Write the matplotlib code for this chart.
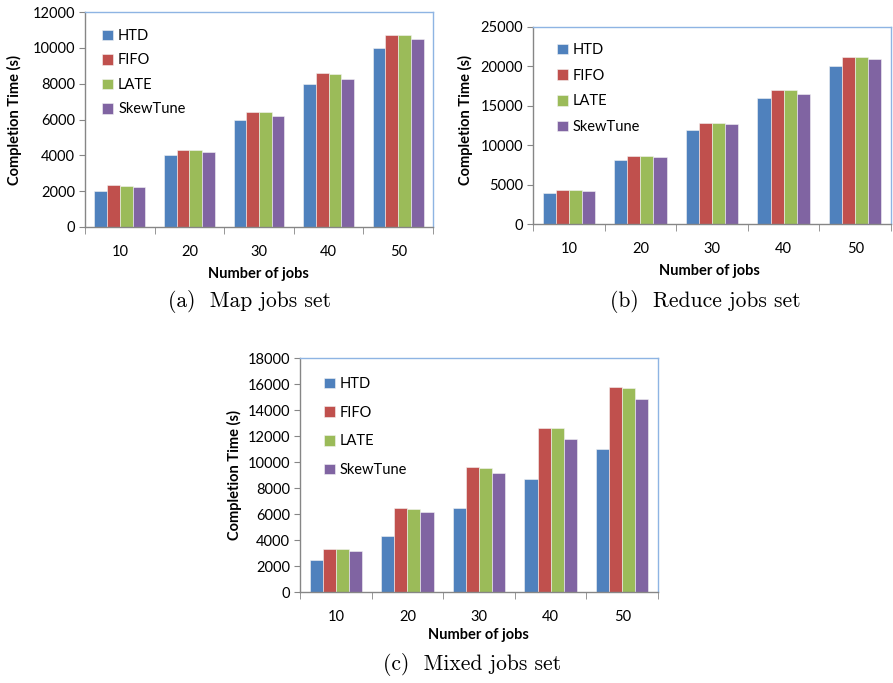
import numpy as np
import matplotlib
matplotlib.use("Agg")
import matplotlib.pyplot as plt

jobs = ["10", "20", "30", "40", "50"]
series = ["HTD", "FIFO", "LATE", "SkewTune"]
colors = ["#4F81BD", "#C0504D", "#9BBB59", "#8064A2"]

map_htd = [2000, 4000, 6000, 8000, 10000]
map_fifo = [2320, 4320, 6400, 8580, 10730]
map_late = [2290, 4320, 6400, 8550, 10730]
map_skew = [2220, 4180, 6200, 8260, 10500]

red_htd = [3980, 8100, 11900, 16050, 20000]
red_fifo = [4300, 8650, 12850, 17000, 21250]
red_late = [4300, 8650, 12820, 17000, 21250]
red_skew = [4220, 8500, 12650, 16560, 21000]

mix_htd = [2500, 4300, 6500, 8700, 11000]
mix_fifo = [3280, 6450, 9590, 12580, 15780]
mix_late = [3280, 6400, 9520, 12580, 15730]
mix_skew = [3170, 6130, 9130, 11760, 14880]

W, H = 893, 683
fig = plt.figure(figsize=(W / 100, H / 100), dpi=100)

tick_font = "Lato"
axis_gray = "#868686"
border_blue = "#8EB4E3"


def make_panel(box, data, ymax, ystep, leg_xy, leg_space, caption, cap_xy, xl_xy, yl_xy):
    left, top, right, bottom = box
    ax = fig.add_axes([left / W, 1 - bottom / H, (right - left) / W, (bottom - top) / H])
    x = np.arange(len(jobs))
    bw = 0.73 / 4
    for i, (vals, name) in enumerate(zip(data, series)):
        ax.bar(x + (i - 1.5) * bw, vals, bw, color=colors[i], label=name,
               edgecolor="#f4f4f4", linewidth=0.4, zorder=2)
    ax.set_xlim(-0.5, len(jobs) - 0.5)
    ax.set_ylim(0, ymax)
    ax.set_yticks(np.arange(0, ymax + 1, ystep))
    ax.set_xticks(x)
    ax.set_xticklabels(jobs)
    ax.set_xticks(np.arange(-0.5, len(jobs)), minor=True)
    ax.tick_params(axis="x", which="major", length=0, pad=13, labelsize=10.5)
    ax.tick_params(axis="x", which="minor", length=5, color=axis_gray, direction="out")
    ax.tick_params(axis="y", length=4, color=axis_gray, direction="out", pad=3, labelsize=10.5)
    for lab in ax.get_xticklabels() + ax.get_yticklabels():
        lab.set_family(tick_font)
    ax.spines["left"].set_color(axis_gray)
    ax.spines["bottom"].set_color(axis_gray)
    ax.spines["top"].set_color(border_blue)
    ax.spines["right"].set_color(border_blue)
    for s in ax.spines.values():
        s.set_linewidth(1.0)
    ax.legend(loc="upper left", bbox_to_anchor=leg_xy, frameon=False,
              handlelength=0.75, handleheight=0.75, handletextpad=0.35,
              labelspacing=leg_space, borderpad=0, borderaxespad=0,
              prop={"family": tick_font, "size": 10.5})
    fig.text(xl_xy[0] / W, 1 - xl_xy[1] / H, "Number of jobs", ha="center", va="center",
             family=tick_font, weight="bold", size=10.5)
    fig.text(yl_xy[0] / W, 1 - yl_xy[1] / H, "Completion Time (s)", ha="center", va="center",
             rotation=90, family=tick_font, weight="bold", size=10.5)
    fig.text(cap_xy[0] / W, 1 - cap_xy[1] / H, caption, ha="center", va="center",
             family="cmr10", size=15.5)
    return ax


make_panel((85, 12, 433, 227), [map_htd, map_fifo, map_late, map_skew], 12000, 2000,
           (0.049, 0.921), 0.72, "(a)  Map jobs set", (250, 302), (258, 274), (14, 120))
make_panel((533, 27, 891, 224), [red_htd, red_fifo, red_late, red_skew], 25000, 5000,
           (0.067, 0.919), 0.8, "(b)  Reduce jobs set", (705, 302), (709, 271), (465, 120))
make_panel((300, 358, 658, 592), [mix_htd, mix_fifo, mix_late, mix_skew], 18000, 2000,
           (0.067, 0.918), 1.0, "(c)  Mixed jobs set", (472, 664), (478, 635), (234, 475))

fig.savefig("out.png", dpi=100)
